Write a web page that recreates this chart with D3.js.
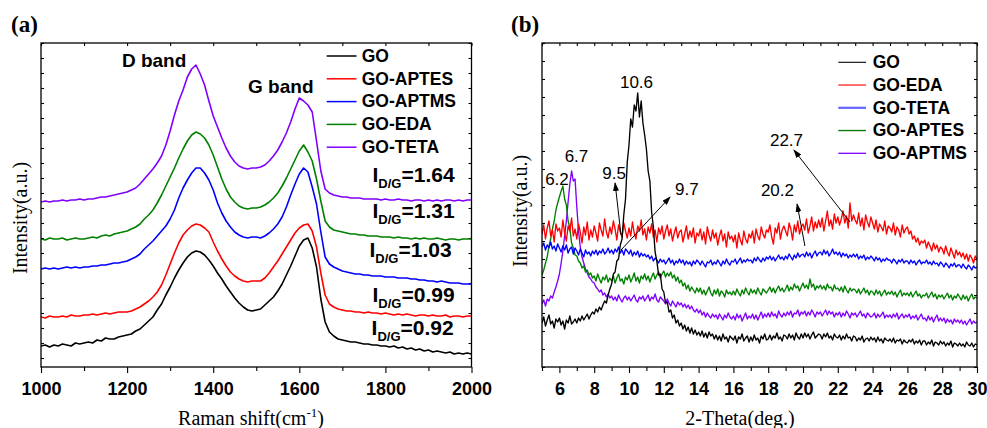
<!DOCTYPE html>
<html>
<head>
<meta charset="utf-8">
<script src="https://cdn.jsdelivr.net/npm/d3@7"></script>
<style>
  body { margin: 0; background: #fff; }
  svg { display: block; }
</style>
</head>
<body>
<svg id="chart" width="987" height="428"></svg>
<script>
// ---------------- (a) Raman ----------------
var ramanShift = d3.range(1000, 2001, 10);
var ramanNames = ["GO", "GO-APTES", "GO-APTMS", "GO-EDA", "GO-TETA"];
var ramanColors = ["#000000", "#ff0000", "#0000ff", "#008000", "#8000ff"];
var ramanTicks = [1000, 1200, 1400, 1600, 1800, 2000];
var ramanMinor = [1100, 1300, 1500, 1700, 1900];
var idgRatios = ["1.64", "1.31", "1.03", "0.99", "0.92"];

var ramanGO = [
  21,22,20,22,21,23,22,21,24,23,
  24,25,24,27,26,29,28,28,30,31,
  32,33,36,38,42,46,50,57,63,72,
  80,89,97,104,110,114,116,115,112,107,
  101,94,88,81,75,69,64,60,57,56,
  57,58,62,66,70,76,83,92,101,111,
  121,127,129,119,100,68,45,35,31,28,
  27,26,25,25,24,23,23,22,22,21,
  21,20,21,19,20,18,19,17,18,16,
  17,15,16,15,14,15,13,14,13,14,
  13];
var ramanAPTES = [
  50,49,51,50,50,51,50,52,51,51,
  52,52,53,52,53,54,53,54,55,55,
  55,56,58,60,63,66,70,75,82,92,
  103,114,124,132,137,141,143,142,139,135,
  125,116,108,101,95,91,88,86,85,86,
  86,86,89,94,100,106,113,120,127,134,
  139,142,143,136,120,94,72,63,60,58,
  57,56,56,55,55,54,55,54,54,53,
  54,53,52,53,52,53,52,51,52,52,
  51,52,51,51,52,50,51,51,50,51,
  51];
var ramanAPTMS = [
  98,99,98,99,98,99,100,99,100,99,
  100,100,101,101,102,102,103,104,104,105,
  106,108,110,113,118,122,126,131,136,141,
  148,157,169,179,187,194,199,199,194,187,
  177,164,154,146,140,135,132,130,129,130,
  130,129,131,134,138,143,150,160,172,183,
  193,199,195,180,163,135,110,103,100,98,
  96,95,94,93,93,92,92,91,91,91,
  90,90,90,89,89,89,88,88,87,87,
  86,86,85,86,85,84,84,84,83,83,
  83];
var ramanEDA = [
  128,127,129,128,128,129,127,128,129,128,
  128,129,130,129,131,132,131,133,134,135,
  136,138,140,143,148,152,157,164,172,181,
  190,199,209,218,226,232,235,233,229,222,
  212,200,188,178,170,165,161,159,158,159,
  159,160,162,165,169,174,181,189,198,207,
  216,222,215,206,188,166,146,140,137,136,
  135,134,133,133,132,132,131,131,131,130,
  130,130,129,130,129,129,128,129,128,129,
  128,128,129,128,127,128,128,127,128,128,
  128];
var ramanTETA = [
  165,166,165,166,166,167,166,167,167,168,
  167,168,168,169,170,170,171,172,173,174,
  175,177,179,183,188,193,198,204,211,222,
  236,252,266,277,290,298,302,293,282,266,
  251,240,229,219,211,205,201,199,198,199,
  199,200,202,206,211,217,225,234,245,258,
  269,266,262,255,226,196,178,174,172,171,
  170,170,169,169,169,168,168,168,168,167,
  168,167,167,168,167,167,166,167,167,166,
  167,166,167,166,167,167,166,167,166,167,
  167];
var ramanValues = [ramanGO, ramanAPTES, ramanAPTMS, ramanEDA, ramanTETA];

// ---------------- (b) XRD ----------------
var theta = d3.range(50, 301).map(function (d) { return d / 10; });
var xrdNames = ["GO", "GO-EDA", "GO-TETA", "GO-APTES", "GO-APTMS"];
var xrdColors = ["#000000", "#ff0000", "#0000ff", "#008000", "#8000ff"];
var xrdLegendColors = ["#000000", "#ff6060", "#6464ff", "#107a10", "#8000ff"];
var xrdTicks = [6, 8, 10, 12, 14, 16, 18, 20, 22, 24, 26, 28, 30];
var xrdMinor = [5, 7, 9, 11, 13, 15, 17, 19, 21, 23, 25, 27, 29];
var peakLabels = ["10.6", "6.7", "6.2", "9.5", "9.7", "20.2", "22.7"];

var xrdGO = [
  44,50,41,47,52,43,46,39,48,45,
  49,42,46,38,47,44,51,43,45,48,
  44,49,46,51,47,50,53,48,52,55,
  53,58,55,60,57,62,66,64,72,78,
  83,93,95,106,108,122,128,152,168,205,
  222,248,240,262,256,274,250,266,244,232,
  218,196,186,155,140,115,106,92,93,78,
  75,64,65,55,57,49,52,44,47,41,
  44,38,42,36,40,34,39,33,37,32,
  35,31,36,30,34,29,35,31,33,28,
  32,27,31,26,33,28,30,25,31,29,
  27,31,24,30,28,33,26,29,31,25,
  30,26,32,27,29,24,31,28,33,27,
  28,32,27,31,29,34,28,30,26,32,
  31,28,33,29,32,27,34,30,28,33,
  29,34,30,33,28,32,35,29,31,33,
  32,28,33,30,34,29,31,27,33,30,
  29,32,27,31,28,33,29,30,26,31,
  30,26,29,27,31,25,28,29,26,30,
  27,29,25,30,26,28,24,29,27,26,
  28,25,29,24,27,26,28,23,27,25,
  24,27,25,28,23,26,24,27,22,26,
  26,22,25,23,27,21,25,24,22,26,
  23,25,21,24,22,26,20,24,23,21,
  24,21,23,20,25,22,21,24,20,23,
  22];
var xrdEDA = [
  133,142,128,139,146,131,137,125,143,136,
  139,130,147,134,126,141,136,149,131,138,
  128,143,135,124,140,132,145,127,137,130,
  141,134,126,144,137,131,148,135,129,140,
  133,146,138,127,142,135,130,144,136,129,
  139,131,145,134,128,141,136,147,132,138,
  127,140,134,143,130,137,125,139,133,141,
  128,136,142,131,138,126,134,140,129,135,
  137,125,133,141,128,136,130,139,124,134,
  131,138,127,135,123,140,132,126,137,129,
  134,122,131,137,126,133,120,135,128,131,
  125,132,119,134,127,122,136,128,124,133,
  129,136,124,138,131,127,140,133,129,137,
  135,142,130,123,139,134,144,128,137,141,
  136,131,144,138,127,142,135,146,133,140,
  143,137,148,134,141,150,136,145,139,147,
  140,149,136,146,156,141,147,138,153,144,
  150,142,148,156,144,151,139,164,146,152,
  147,143,154,141,149,137,152,145,140,150,
  144,138,147,135,143,140,136,146,133,141,
  139,135,144,132,140,137,130,142,134,138,
  140,133,136,128,131,125,129,122,126,124,
  127,119,125,121,116,124,118,122,115,120,
  118,113,121,115,111,119,114,109,117,112,
  115,110,114,108,113,106,112,109,104,111,
  108];
var xrdTETA = [
  120,124,117,122,119,125,118,121,116,123,
  119,115,121,117,122,114,118,120,113,119,
  116,112,118,114,110,117,113,115,111,116,
  113,117,112,116,114,118,113,115,119,114,
  117,113,118,115,120,114,117,112,118,116,
  113,117,111,115,112,116,110,114,111,113,
  110,112,108,111,106,109,107,104,108,105,
  107,103,106,109,104,107,102,106,104,108,
  104,107,102,106,103,105,101,106,103,107,
  105,102,106,103,100,105,104,107,102,105,
  103,107,104,101,106,103,108,104,102,106,
  105,108,103,106,109,104,107,105,108,106,
  107,104,109,106,110,107,105,109,106,110,
  108,111,107,110,106,109,112,108,110,107,
  111,108,113,110,107,112,109,114,110,112,
  113,110,115,111,114,109,113,116,111,114,
  115,112,117,113,116,111,114,118,113,115,
  112,115,110,114,111,113,109,112,110,113,
  110,113,108,111,109,112,107,110,108,111,
  109,106,110,107,109,105,108,106,109,107,
  107,104,108,106,103,107,105,108,104,106,
  106,103,107,104,106,102,105,107,103,105,
  104,107,103,105,102,106,103,104,101,105,
  103,100,104,102,99,103,101,104,100,102,
  102,99,103,100,98,102,100,97,101,99,
  100];
var xrdAPTES = [
  92,97,104,110,121,128,138,146,157,164,
  170,176,181,168,162,146,139,124,119,112,
  111,106,104,99,101,95,97,92,94,89,
  91,86,93,88,84,90,87,92,85,89,
  86,91,84,89,93,86,88,83,90,87,
  92,85,89,94,86,90,84,91,88,93,
  87,91,85,90,94,88,92,95,89,93,
  96,90,94,91,95,89,92,86,90,84,
  87,81,84,78,82,76,80,77,74,79,
  75,79,73,77,72,76,80,74,71,77,
  73,78,71,76,74,70,77,73,75,72,
  76,72,78,74,71,77,73,79,75,72,
  78,74,77,73,79,75,72,78,76,74,
  77,80,75,79,74,78,81,76,79,75,
  78,82,76,80,77,83,79,81,76,80,
  84,79,82,78,88,80,83,77,81,79,
  82,78,81,77,83,79,80,76,82,78,
  79,76,80,75,81,77,74,79,76,78,
  77,74,78,73,76,79,74,77,72,76,
  75,72,77,73,76,71,74,77,72,75,
  73,76,72,75,70,74,77,71,74,72,
  74,71,75,70,73,76,71,73,69,72,
  71,74,69,72,75,70,73,68,72,70,
  72,68,71,74,69,72,67,71,69,73,
  70,67,72,68,71,66,70,73,68,70,
  69];
var xrdAPTMS = [
  63,67,61,68,66,71,69,75,80,86,
  93,104,116,131,146,165,183,196,186,188,
  160,136,120,110,104,98,94,90,88,85,
  84,80,78,75,77,72,74,70,73,69,
  71,67,70,66,72,68,65,69,71,67,
  70,66,69,72,67,65,70,68,71,66,
  69,72,66,70,68,73,67,65,70,68,
  66,63,68,64,61,66,63,60,65,62,
  64,60,63,59,62,58,61,57,55,58,
  54,57,52,55,50,54,51,49,53,50,
  52,48,53,50,47,52,49,54,50,48,
  51,47,53,49,52,46,50,54,48,51,
  49,53,48,52,47,51,55,49,53,50,
  54,50,55,51,53,49,56,52,50,54,
  51,55,52,56,50,54,53,57,51,55,
  53,56,51,55,52,57,54,50,55,53,
  55,51,54,57,52,56,53,55,50,54,
  52,55,50,54,51,56,53,49,54,52,
  54,50,53,56,51,53,49,54,52,50,
  51,54,49,53,50,52,55,49,52,50,
  52,49,53,50,54,48,51,53,49,52,
  50,53,48,51,49,52,47,50,53,48,
  49,46,51,47,50,45,49,52,46,49,
  46,49,44,48,45,47,43,48,45,47,
  44,47,43,46,42,45,48,43,46,44,
  45];
var xrdValues = [xrdGO, xrdEDA, xrdTETA, xrdAPTES, xrdAPTMS];

// label / arrow placement, in data coordinates
var bandLabelPos = [[1188, 300], [1481, 274]];
var ratioLabelPos = [[1770, 185], [1770, 149], [1763, 110], [1770, 65], [1768, 32]];
var peakLabelPos = [[10.43, 279], [6.98, 205], [5.86, 182], [9.14, 188], [13.33, 172], [18.53, 171], [19.05, 221]];
var peakArrows = [[9.54, 132, 9.2, 184], [9.54, 117, 12.36, 170], [20.11, 121, 19.66, 163], [22.7, 145, 19.48, 217]];

var SANS = "'Liberation Sans', Arial, sans-serif";
var SERIF = "'Liberation Serif', 'Times New Roman', serif";
var svg = d3.select("#chart");

svg.append("defs").append("marker")
    .attr("id", "arrow")
    .attr("markerUnits", "userSpaceOnUse")
    .attr("markerWidth", 9).attr("markerHeight", 6)
    .attr("refX", 8).attr("refY", 3)
    .attr("orient", "auto")
    .append("path").attr("d", "M0,0L9,3L0,6Z").attr("fill", "#000");

function drawPanel(p) {
    var g = svg.append("g");
    var x = d3.scaleLinear().domain(p.xDomain).range([p.left, p.right]);
    var y = d3.scaleLinear().domain([0, 324]).range([p.bottom, p.top]);

    var clipId = "clip" + p.id;
    svg.select("defs").append("clipPath").attr("id", clipId)
        .append("rect").attr("x", p.left).attr("y", p.top)
        .attr("width", p.right - p.left).attr("height", p.bottom - p.top);

    // bottom ticks
    g.append("g").attr("transform", "translate(0," + p.bottom + ")")
        .call(d3.axisBottom(x).tickValues(p.minor).tickSizeInner(4).tickSizeOuter(0).tickFormat(""));
    var bx = g.append("g").attr("transform", "translate(0," + p.bottom + ")")
        .call(d3.axisBottom(x).tickValues(p.major).tickSizeInner(6).tickSizeOuter(0).tickFormat(d3.format("d")));
    bx.selectAll("text").attr("y", 28).attr("dy", 0)
        .attr("font-family", SANS).attr("font-weight", "bold").attr("font-size", 18).attr("fill", "#000");
    // top, left, right (inward)
    g.append("g").attr("transform", "translate(0," + p.top + ")")
        .call(d3.axisTop(x).tickValues(p.minor.concat(p.major)).tickSizeInner(-3).tickSizeOuter(0).tickFormat(""));
    g.append("g").attr("transform", "translate(" + p.left + ",0)")
        .call(d3.axisLeft(y).tickValues(p.yTicks).tickSizeInner(-3).tickSizeOuter(0).tickFormat(""));
    g.append("g").attr("transform", "translate(" + p.right + ",0)")
        .call(d3.axisRight(y).tickValues(p.yTicks).tickSizeInner(-3).tickSizeOuter(0).tickFormat(""));
    g.selectAll(".domain").remove();
    g.selectAll(".tick line").attr("stroke", "#000").attr("stroke-width", 1.1);

    // curves
    var line = d3.line()
        .x(function (d, i) { return x(p.xs[i]); })
        .y(function (d) { return y(d); });
    p.drawOrder.forEach(function (k) {
        g.append("path")
            .attr("d", line(p.values[k]))
            .attr("fill", "none")
            .attr("stroke", p.colors[k])
            .attr("stroke-width", p.lineWidth)
            .attr("stroke-linejoin", "round")
            .attr("clip-path", "url(#" + clipId + ")");
    });

    g.append("rect")
        .attr("x", p.left).attr("y", p.top)
        .attr("width", p.right - p.left).attr("height", p.bottom - p.top)
        .attr("fill", "none").attr("stroke", "#000").attr("stroke-width", 1.3);

    // legend
    p.names.forEach(function (n, i) {
        var ly = p.legend.y0 + i * p.legend.dy;
        g.append("line")
            .attr("x1", p.legend.x0).attr("x2", p.legend.x1)
            .attr("y1", ly).attr("y2", ly)
            .attr("stroke", p.legendColors[i]).attr("stroke-width", p.legend.lw[i]);
        g.append("text")
            .attr("x", p.legend.tx).attr("y", ly + 5.8)
            .attr("font-family", SANS).attr("font-weight", "bold").attr("font-size", 17.5)
            .text(n);
    });

    // titles
    g.append("text")
        .attr("x", p.tag[0]).attr("y", p.tag[1])
        .attr("font-family", SERIF).attr("font-weight", "bold").attr("font-size", 23)
        .text(p.tagText);
    var xt = g.append("text")
        .attr("x", p.xTitlePos).attr("y", 425)
        .attr("text-anchor", "middle")
        .attr("font-family", SERIF).attr("font-size", 20);
    p.xTitle(xt);
    g.append("text")
        .attr("transform", "translate(" + p.yTitlePos[0] + "," + p.yTitlePos[1] + ") rotate(-90)")
        .attr("text-anchor", "middle")
        .attr("font-family", SERIF).attr("font-size", 20)
        .text("Intensity(a.u.)");

    return { g: g, x: x, y: y };
}

// panel (a)
var pa = drawPanel({
    id: "a", left: 41, right: 471.5, top: 43, bottom: 367,
    xDomain: [1000, 2000], xs: ramanShift, values: ramanValues,
    major: ramanTicks, minor: ramanMinor, yTicks: d3.range(9, 325, 15),
    colors: ramanColors, legendColors: ramanColors, names: ramanNames,
    drawOrder: [0, 1, 2, 3, 4], lineWidth: 1.6,
    legend: { x0: 326.7, x1: 356.5, tx: 361.7, y0: 56, dy: 22.8, lw: [1.5, 1.5, 1.5, 1.5, 1.5] },
    tag: [11, 32], tagText: "(a)",
    xTitlePos: 251,
    xTitle: function (t) {
        t.append("tspan").text("Raman shift(cm");
        t.append("tspan").attr("dy", -8).attr("font-size", 13).text("-1");
        t.append("tspan").attr("dy", 8).text(")");
    },
    yTitlePos: [27, 218]
});

bandLabelPos.forEach(function (pos, i) {
    pa.g.append("text")
        .attr("x", pa.x(pos[0])).attr("y", pa.y(pos[1]))
        .attr("font-family", SANS).attr("font-weight", "bold").attr("font-size", 19)
        .text(i === 0 ? "D band" : "G band");
});
idgRatios.forEach(function (r, i) {
    var t = pa.g.append("text")
        .attr("x", pa.x(ratioLabelPos[i][0])).attr("y", pa.y(ratioLabelPos[i][1]))
        .attr("font-family", SANS).attr("font-weight", "bold").attr("font-size", 21);
    t.append("tspan").text("I");
    t.append("tspan").attr("dy", 6).attr("font-size", 13).text("D/G");
    t.append("tspan").attr("dy", -6).text("=" + r);
});

// panel (b)
var pb = drawPanel({
    id: "b", left: 542, right: 977, top: 43, bottom: 367,
    xDomain: [5, 30], xs: theta, values: xrdValues,
    major: xrdTicks, minor: xrdMinor, yTicks: d3.range(0, 325, 18),
    colors: xrdColors, legendColors: xrdLegendColors, names: xrdNames,
    drawOrder: [4, 3, 2, 1, 0], lineWidth: 1.35,
    legend: { x0: 838.3, x1: 866, tx: 872.7, y0: 62.3, dy: 22.75, lw: [1.1, 1.8, 2.2, 1.4, 1.3] },
    tag: [511, 32], tagText: "(b)",
    xTitlePos: 740,
    xTitle: function (t) { t.text("2-Theta(deg.)"); },
    yTitlePos: [527, 211]
});

peakArrows.forEach(function (a) {
    pb.g.append("line")
        .attr("x1", pb.x(a[0])).attr("y1", pb.y(a[1]))
        .attr("x2", pb.x(a[2])).attr("y2", pb.y(a[3]))
        .attr("stroke", "#000").attr("stroke-width", 1)
        .attr("marker-end", "url(#arrow)");
});
peakLabels.forEach(function (l, i) {
    pb.g.append("text")
        .attr("x", pb.x(peakLabelPos[i][0])).attr("y", pb.y(peakLabelPos[i][1]))
        .attr("text-anchor", "middle")
        .attr("font-family", SANS).attr("font-size", 17)
        .text(l);
});
</script>
</body>
</html>
